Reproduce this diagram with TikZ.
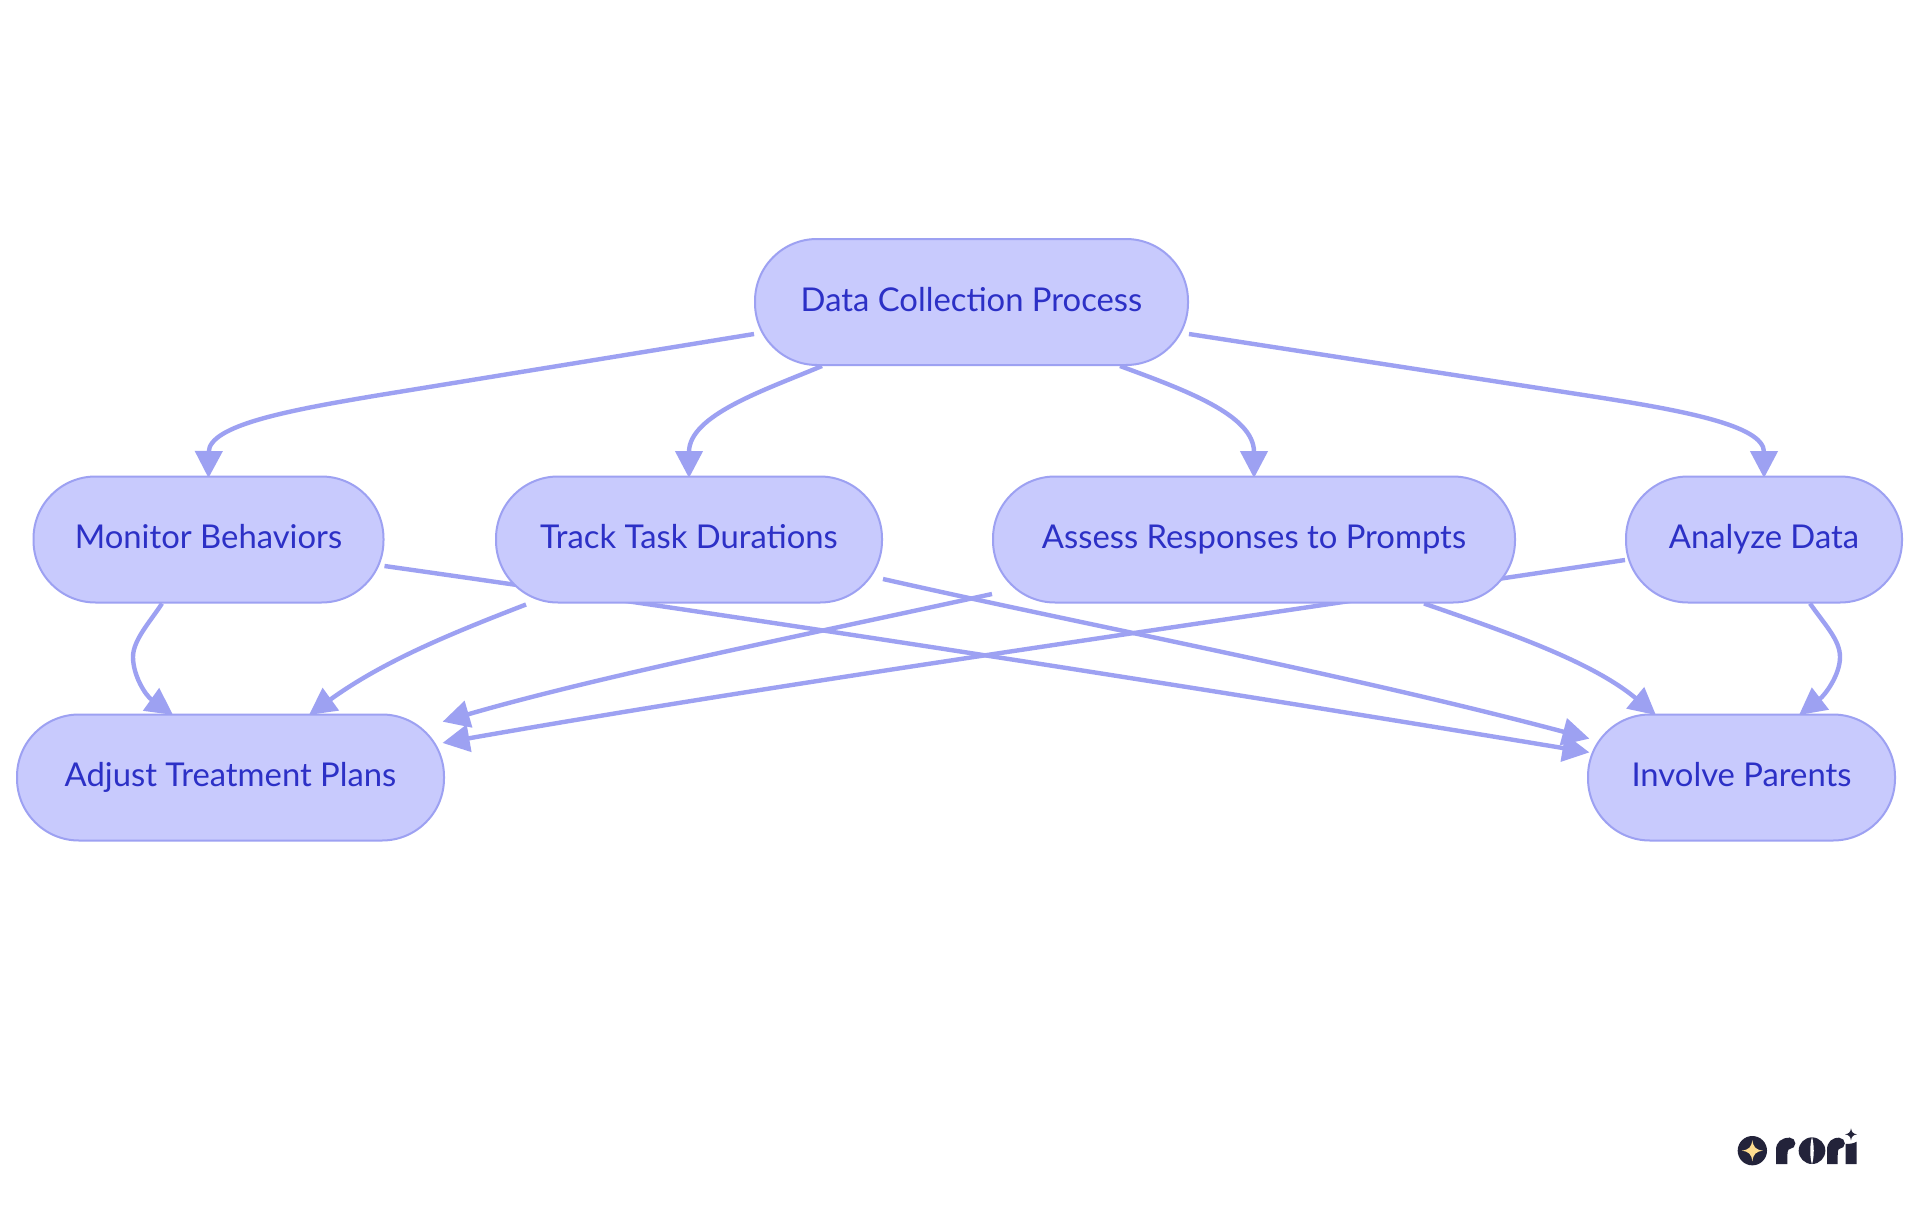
\documentclass[tikz,border=0pt]{standalone}
\usepackage{fontspec}
\setmainfont{Lato}
\usetikzlibrary{arrows.meta,backgrounds}
\definecolor{boxfill}{HTML}{C8CAFD}
\definecolor{boxline}{HTML}{9DA1F2}
\definecolor{boxtext}{HTML}{2C30C6}
\definecolor{logodark}{HTML}{23233A}
\definecolor{logostar}{HTML}{FFDD8F}
\tikzset{
  x=1pt,y=-1pt,
  box/.style={rectangle,draw=boxline,fill=boxfill,line width=2pt,rounded corners=62pt,
    minimum height=126pt,inner sep=0pt,text=boxtext,text height=23pt,text depth=4.5pt,
    font=\fontsize{32.8}{38}\selectfont},
  edge/.style={draw=boxline,line width=4.4pt,shorten >=-2.5pt,-{Triangle[length=27pt,width=27pt]}},
  logoshape/.style={fill=logodark,draw=none}
}
\begin{document}
\begin{tikzpicture}
\useasboundingbox (0,0) rectangle (1920,1215);
\node[box,minimum width=433pt] (data) at (971.5,302) {Data Collection Process};
\node[box,minimum width=350pt] (mon) at (208.5,539.5) {Monitor Behaviors};
\node[box,minimum width=386pt] (track) at (689,539.5) {Track Task Durations};
\node[box,minimum width=522pt] (assess) at (1254,539.5) {Assess Responses to Prompts};
\node[box,minimum width=276pt] (analyze) at (1764,539.5) {Analyze Data};
\node[box,minimum width=427pt] (adjust) at (230.5,777.5) {Adjust Treatment Plans};
\node[box,minimum width=307pt] (involve) at (1741.5,777.5) {Involve Parents};
\begin{pgfonlayer}{background}
\fill[white] (0,0) rectangle (1920,1215);
\draw[edge] ([yshift=-32pt]data.west) -- (380,395) .. controls (290,410) and (209,425) .. (mon.north);
\draw[edge] ([xshift=-149.5pt]data.south) .. controls (765,390) and (689,415) .. (track.north);
\draw[edge] ([xshift=148.5pt]data.south) .. controls (1185,390) and (1254,415) .. (assess.north);
\draw[edge] ([yshift=-32pt]data.east) -- (1590,396) .. controls (1680,410) and (1764,425) .. (analyze.north);
\draw[edge] ([xshift=-46.5pt]mon.south) .. controls (150,622) and (133,640) .. (133,657) .. controls (133,675) and (145,695) .. ([xshift=-59.5pt]adjust.north);
\draw[edge] ([xshift=-163pt,yshift=-1pt]track.south) .. controls (455,632) and (385,660) .. ([xshift=80.5pt]adjust.north);
\draw[edge] ([yshift=-54.5pt]assess.west) .. controls (800,636) and (600,676) .. ([yshift=56.5pt]adjust.east);
\draw[edge] ([yshift=-20.5pt]analyze.west) .. controls (1200,624) and (800,680) .. ([yshift=35pt]adjust.east);
\draw[edge] ([yshift=-26.5pt]mon.east) .. controls (800,625) and (1200,688) .. ([yshift=25.5pt]involve.west);
\draw[edge] ([yshift=-39.5pt]track.east) .. controls (1100,628) and (1350,675) .. ([yshift=39.5pt]involve.west);
\draw[edge] ([xshift=170pt]assess.south) .. controls (1500,630) and (1590,660) .. ([xshift=-87.5pt]involve.north);
\draw[edge] ([xshift=46pt]analyze.south) .. controls (1825,625) and (1840,640) .. (1840,657) .. controls (1840,675) and (1825,695) .. ([xshift=59.5pt]involve.north);
\end{pgfonlayer}
% logo
\begin{scope}[shift={(1680,1100)},x=0.33333pt,y=-0.33333pt]
  \fill[logoshape] (217,152) circle[radius=44];
  \fill[logostar] (217,120) .. controls (220,142) and (227,149) .. (249,152) .. controls (227,155) and (220,162) .. (217,184) .. controls (214,162) and (207,155) .. (185,152) .. controls (207,149) and (214,142) .. (217,120) -- cycle;
  \fill[logoshape] (288,192) -- (288,150) .. controls (288,125) and (305,113) .. (330,113) -- (330,147) .. controls (322,147) and (322,155) .. (322,192) -- cycle;
  \fill[logoshape] (329,130) circle[radius=17];
  \fill[logoshape] (396,152) circle[radius=40];
  \fill[white] (396,111) .. controls (389,135) and (389,170) .. (396,193) .. controls (403,170) and (403,135) .. (396,111) -- cycle;
  \fill[logoshape] (441,192) -- (441,150) .. controls (441,125) and (456,113) .. (478,113) -- (478,147) .. controls (473,147) and (473,155) .. (473,192) -- cycle;
  \fill[logoshape] (478,130) circle[radius=16.5];
  \fill[logoshape] (497,192) -- (497,132) .. controls (510,132) and (522,130) .. (530,125) -- (530,192) -- cycle;
  \fill[logoshape] (513,85) .. controls (515,97) and (519,101) .. (531,103) .. controls (519,105) and (515,109) .. (513,121) .. controls (511,109) and (507,105) .. (495,103) .. controls (507,101) and (511,97) .. (513,85) -- cycle;
\end{scope}
\end{tikzpicture}
\end{document}
